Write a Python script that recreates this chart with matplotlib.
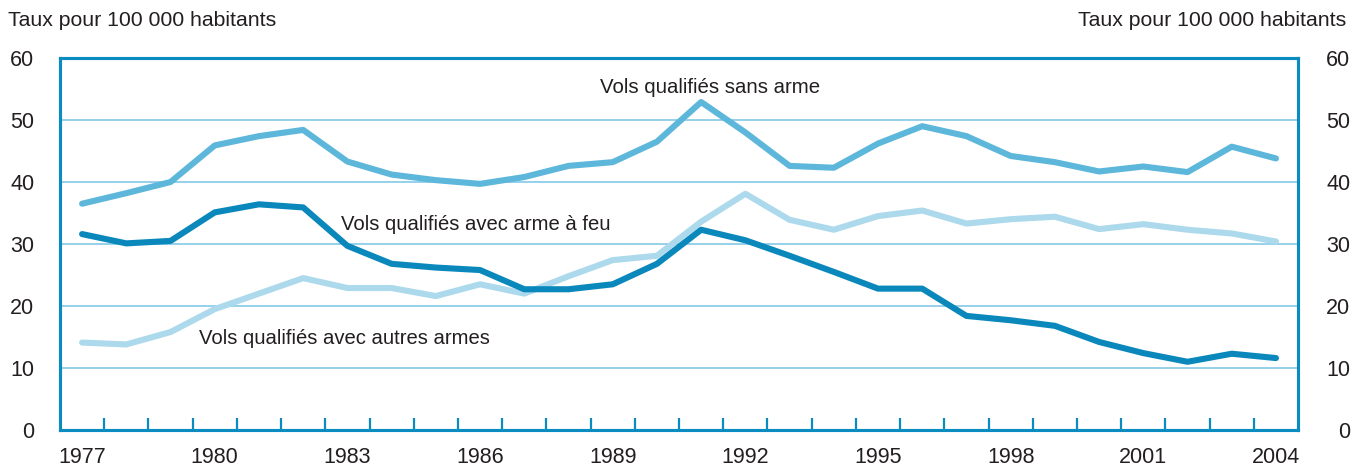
import numpy as np
import matplotlib
matplotlib.use("Agg")
import matplotlib.pyplot as plt

# data (rate per 100 000 population)
years = list(range(1977, 2005))
sans_arme = [36.5, 38.2, 40.0, 45.9, 47.4, 48.4, 43.3, 41.2, 40.3, 39.7,
             40.8, 42.6, 43.2, 46.5, 52.9, 48.0, 42.6, 42.3, 46.2, 49.0,
             47.4, 44.2, 43.2, 41.7, 42.5, 41.6, 45.7, 43.8]
arme_feu = [31.6, 30.1, 30.5, 35.1, 36.4, 35.9, 29.7, 26.8, 26.2, 25.8,
            22.7, 22.7, 23.5, 26.8, 32.3, 30.6, 28.1, 25.5, 22.8, 22.8,
            18.4, 17.7, 16.8, 14.2, 12.4, 11.0, 12.3, 11.6]
autres_armes = [14.1, 13.8, 15.8, 19.5, 22.0, 24.5, 22.9, 22.9, 21.6, 23.5,
                22.0, 24.8, 27.4, 28.1, 33.6, 38.1, 33.9, 32.3, 34.5, 35.4,
                33.3, 34.0, 34.4, 32.4, 33.2, 32.3, 31.7, 30.4]
label_years = years[::3]
y_ticks = [0, 10, 20, 30, 40, 50, 60]

frame_col = "#0a8cc0"
grid_col = "#8ccde8"
text_col = "#231f20"
plt.rcParams['font.family'] = ['Liberation Sans', 'DejaVu Sans']

fig = plt.figure(figsize=(13.54, 4.66), dpi=100)
ax = fig.add_axes([0.0443, 0.0773, 0.9144, 0.7982])

for yv in y_ticks[1:-1]:
    ax.axhline(yv, color=grid_col, lw=1.3, zorder=1)

ax.plot(years, sans_arme, color="#5db7db", lw=4.4, solid_capstyle='round', zorder=3)
ax.plot(years, autres_armes, color="#acd9ec", lw=4.4, solid_capstyle='round', zorder=2)
ax.plot(years, arme_feu, color="#0a88bb", lw=4.4, solid_capstyle='round', zorder=4)

ax.text(1991.2, 55.3, "Vols qualifiés sans arme", ha='center', va='center',
        fontsize=14.7, color=text_col)
ax.text(1982.85, 33.1, "Vols qualifiés avec arme à feu", ha='left', va='center',
        fontsize=14.6, color=text_col)
ax.text(1979.65, 14.8, "Vols qualifiés avec autres armes", ha='left', va='center',
        fontsize=14.6, color=text_col)

ax.set_xlim(1976.5, 2004.5)
ax.set_ylim(0, 60)
ax.set_xticks(label_years, [str(y) for y in label_years])
ax.set_xticks(np.arange(1977.5, 2004, 1.0), minor=True)
ax.tick_params(axis='x', which='major', length=0, pad=12, labelsize=15.5, labelcolor=text_col)
ax.tick_params(axis='x', which='minor', direction='in', length=9, width=1.6, color=frame_col)
ax.set_yticks(y_ticks)
ax.tick_params(axis='y', length=0, pad=18.5, labelsize=15.5, labelcolor=text_col)

# right-hand scale, same values
ax2 = ax.twinx()
ax2.set_ylim(0, 60)
ax2.set_yticks(y_ticks)
ax2.tick_params(axis='y', length=0, pad=37.5, labelsize=15.5, labelcolor=text_col)
for lbl in ax2.get_yticklabels():
    lbl.set_ha('right')

for a in (ax, ax2):
    for side in a.spines.values():
        side.set_color(frame_col)
        side.set_linewidth(2.2)

fig.text(0.006, 0.957, "Taux pour 100 000 habitants", ha='left', va='center',
         fontsize=15.3, color=text_col)
fig.text(0.994, 0.957, "Taux pour 100 000 habitants", ha='right', va='center',
         fontsize=15.3, color=text_col)

fig.savefig("out.png", dpi=100)
